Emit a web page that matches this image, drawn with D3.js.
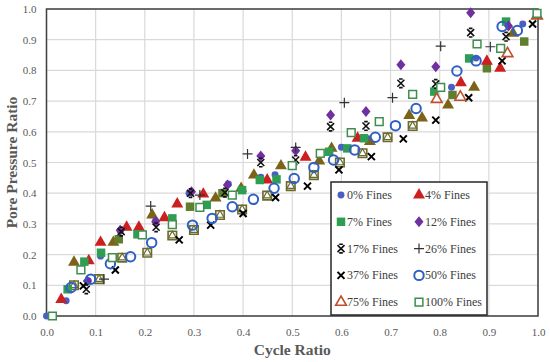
<!DOCTYPE html>
<html>
<head>
<meta charset="utf-8">
<script src="https://cdn.jsdelivr.net/npm/d3@7"></script>
<style>
  body { margin: 0; background: #fff; }
  text { font-family: "Liberation Serif", "Times New Roman", serif; }
</style>
</head>
<body>
<svg id="chart" width="550" height="362"></svg>
<script>
// values: [cycle ratio, pore pressure ratio]
var fines0 = [[0.0,0.0],[0.04,0.05],[0.085,0.115],[0.11,0.195],[0.15,0.277],[0.222,0.31],[0.29,0.4],[0.37,0.43],[0.436,0.452],[0.465,0.46],[0.5,0.49],[0.6,0.55],[0.65,0.58],[0.824,0.745],[0.874,0.84],[0.969,0.951]];
var fines4 = [[0.03,0.054],[0.086,0.18],[0.11,0.24],[0.163,0.289],[0.188,0.289],[0.24,0.32],[0.266,0.365],[0.319,0.397],[0.449,0.443],[0.527,0.517],[0.633,0.579],[0.843,0.76],[0.896,0.83],[0.923,0.807]];
var fines7 = [[0.043,0.087],[0.077,0.177],[0.111,0.206],[0.185,0.266],[0.256,0.318],[0.326,0.362],[0.398,0.41],[0.434,0.443],[0.468,0.445],[0.575,0.535],[0.612,0.546],[0.646,0.579],[0.789,0.731],[0.86,0.839],[0.935,0.959]];
var fines12 = [[0.083,0.114],[0.15,0.279],[0.222,0.307],[0.295,0.405],[0.368,0.427],[0.436,0.521],[0.507,0.538],[0.578,0.655],[0.65,0.666],[0.721,0.818],[0.792,0.812],[0.863,0.988],[0.94,0.945]];
var fines17 = [[0.081,0.087],[0.152,0.275],[0.223,0.289],[0.293,0.4],[0.363,0.402],[0.436,0.5],[0.507,0.508],[0.578,0.617],[0.65,0.619],[0.721,0.758],[0.792,0.756],[0.863,0.923],[0.935,0.91]];
var fines26 = [[0.117,0.12],[0.212,0.358],[0.312,0.394],[0.409,0.528],[0.507,0.549],[0.606,0.695],[0.704,0.711],[0.802,0.879],[0.903,0.877]];
var fines37 = [[0.075,0.098],[0.14,0.15],[0.27,0.248],[0.334,0.296],[0.4,0.334],[0.466,0.386],[0.531,0.423],[0.595,0.476],[0.661,0.519],[0.726,0.577],[0.792,0.638],[0.859,0.711],[0.927,0.831],[0.989,0.951]];
var fines50 = [[0.05,0.093],[0.09,0.12],[0.13,0.17],[0.171,0.193],[0.214,0.239],[0.297,0.296],[0.337,0.318],[0.378,0.356],[0.421,0.38],[0.463,0.416],[0.504,0.448],[0.544,0.484],[0.584,0.508],[0.627,0.541],[0.669,0.582],[0.71,0.62],[0.752,0.676],[0.835,0.798],[0.874,0.831],[0.927,0.943],[0.958,0.93]];
var fines75 = [[0.794,0.706],[0.842,0.713],[0.938,0.855],[0.998,0.978]];
var fines100 = [[0.012,0.0],[0.07,0.15],[0.134,0.19],[0.195,0.264],[0.256,0.298],[0.312,0.354],[0.378,0.394],[0.5,0.49],[0.557,0.53],[0.62,0.597],[0.677,0.633],[0.745,0.722],[0.802,0.745],[0.876,0.886],[0.924,0.872],[0.998,0.986]];
// extra markers in the plot that have no legend entry
var oliveTri = [[0.056,0.175],[0.136,0.24],[0.215,0.329],[0.344,0.384],[0.396,0.416],[0.422,0.459],[0.477,0.489],[0.555,0.505],[0.58,0.546],[0.658,0.568],[0.738,0.653],[0.764,0.645],[0.817,0.687],[0.87,0.745],[0.949,0.921]];
var oliveSq = [[0.147,0.25],[0.292,0.356],[0.358,0.4],[0.826,0.72],[0.896,0.807],[0.972,0.894]];
var boxTri = [[0.056,0.1],[0.107,0.12],[0.154,0.19],[0.205,0.206],[0.256,0.262],[0.3,0.28],[0.353,0.329],[0.398,0.347],[0.449,0.392],[0.497,0.423],[0.544,0.459],[0.597,0.5],[0.643,0.53],[0.694,0.582],[0.745,0.619]];

var ticks = [0,0.1,0.2,0.3,0.4,0.5,0.6,0.7,0.8,0.9,1.0];
var legendNames = ["0% Fines","4% Fines","7% Fines","12% Fines","17% Fines","26% Fines","37% Fines","50% Fines","75% Fines","100% Fines"];

var svg = d3.select("#chart"),
    margin = {top: 9, right: 12, bottom: 46, left: 46.5},
    width = +svg.attr("width") - margin.left - margin.right,
    height = +svg.attr("height") - margin.top - margin.bottom;

var x = d3.scaleLinear().domain([0, 1]).range([0, width]);
var y = d3.scaleLinear().domain([0, 1]).range([height, 0]);

var g = svg.append("g")
    .attr("transform", "translate(" + margin.left + "," + margin.top + ")");

// grid
g.append("g").selectAll("line").data(ticks).enter().append("line")
    .attr("x1", d => x(d)).attr("x2", d => x(d))
    .attr("y1", 0).attr("y2", height)
    .attr("stroke", "#d9d9d9").attr("stroke-width", 1.2);
g.append("g").selectAll("line").data(ticks).enter().append("line")
    .attr("y1", d => y(d)).attr("y2", d => y(d))
    .attr("x1", 0).attr("x2", width)
    .attr("stroke", "#d9d9d9").attr("stroke-width", 1.2);

// axes (labels only)
var xAxis = g.append("g")
    .attr("transform", "translate(0," + height + ")")
    .call(d3.axisBottom(x).tickValues(ticks).tickFormat(d3.format(".1f")).tickSize(0).tickPadding(12));
var yAxis = g.append("g")
    .call(d3.axisLeft(y).tickValues(ticks).tickFormat(d3.format(".1f")).tickSize(0).tickPadding(10));
[xAxis, yAxis].forEach(function(a) {
  a.select(".domain").remove();
  a.selectAll("text").attr("fill", "#595959").style("font-size", "11px")
    .style("font-family", "'Liberation Serif', serif");
});

// frame
g.append("rect")
    .attr("width", width).attr("height", height)
    .attr("fill", "none").attr("stroke", "#404040").attr("stroke-width", 1.5);

// marker shapes
var tri = d3.symbol().type(d3.symbolTriangle).size(62)();
var sq = d3.symbol().type(d3.symbolSquare).size(72)();
var dia = "M0,-5.5L4.5,0L0,5.5L-4.5,0Z";
var star = "M-3.5,-3.5L3.5,3.5M3.5,-3.5L-3.5,3.5M-1.8,-4.3H1.8M-1.8,4.3H1.8";
var plus = "M-5,0H5M0,-5V5";
var cross = "M-3.5,-3.5L3.5,3.5M3.5,-3.5L-3.5,3.5";

var styles = [
  {d: d3.symbol().type(d3.symbolCircle).size(38)(), fill: "#4a5fc1", stroke: "none", sw: 0},
  {d: tri, fill: "#cc1f1f", stroke: "none", sw: 0},
  {d: sq, fill: "#2e9e53", stroke: "none", sw: 0},
  {d: dia, fill: "#7030a0", stroke: "none", sw: 0},
  {d: star, fill: "none", stroke: "#111", sw: 1.6},
  {d: plus, fill: "none", stroke: "#333", sw: 1.2},
  {d: cross, fill: "none", stroke: "#000", sw: 2},
  {d: d3.symbol().type(d3.symbolCircle).size(70)(), fill: "none", stroke: "#2f5fc4", sw: 2},
  {d: d3.symbol().type(d3.symbolTriangle).size(50)(), fill: "#fff", stroke: "#c0502d", sw: 1.6},
  {d: d3.symbol().type(d3.symbolSquare).size(60)(), fill: "#fff", stroke: "#3e8f4e", sw: 1.5}
];
var allSeries = [fines0, fines4, fines7, fines12, fines17, fines26, fines37, fines50, fines75, fines100];

function drawPoints(data, st) {
  g.append("g").selectAll("path").data(data).enter().append("path")
    .attr("transform", d => "translate(" + x(d[0]) + "," + y(d[1]) + ")")
    .attr("d", st.d)
    .attr("fill", st.fill)
    .attr("stroke", st.stroke)
    .attr("stroke-width", st.sw);
}

// unlabelled markers first
drawPoints(boxTri, {d: d3.symbol().type(d3.symbolSquare).size(72)(), fill: "#f4f4e8", stroke: "#6b6b30", sw: 1.6});
drawPoints(boxTri, {d: d3.symbol().type(d3.symbolTriangle).size(26)(), fill: "#fff", stroke: "#6b6b30", sw: 1.2});
drawPoints(oliveTri, {d: tri, fill: "#7b6318", stroke: "none", sw: 0});
drawPoints(oliveSq, {d: sq, fill: "#5f7f2e", stroke: "none", sw: 0});

allSeries.forEach(function(s, i) { drawPoints(s, styles[i]); });

// legend
var leg = svg.append("g").attr("transform", "translate(331,182)");
leg.append("rect").attr("width", 156).attr("height", 133)
    .attr("fill", "#fff").attr("stroke", "#262626").attr("stroke-width", 1.5);
legendNames.forEach(function(name, i) {
  var col = i % 2, row = Math.floor(i / 2);
  var lx = col === 0 ? 10 : 88, ly = 13 + row * 26.8;
  var st = styles[i];
  leg.append("path")
    .attr("transform", "translate(" + lx + "," + ly + ")")
    .attr("d", st.d).attr("fill", st.fill).attr("stroke", st.stroke).attr("stroke-width", st.sw);
  leg.append("text")
    .attr("x", lx + 6).attr("y", ly + 4)
    .attr("fill", "#404040").style("font-size", "12px")
    .text(name);
});

// axis titles
svg.append("text")
    .attr("x", margin.left + width / 2).attr("y", 355)
    .attr("text-anchor", "middle")
    .attr("fill", "#595959").style("font-size", "15.5px").style("font-weight", "bold")
    .text("Cycle Ratio");
svg.append("text")
    .attr("transform", "translate(17," + (margin.top + height / 2) + ") rotate(-90)")
    .attr("text-anchor", "middle")
    .attr("fill", "#595959").style("font-size", "15.5px").style("font-weight", "bold")
    .text("Pore Pressure Ratio");
</script>
</body>
</html>
